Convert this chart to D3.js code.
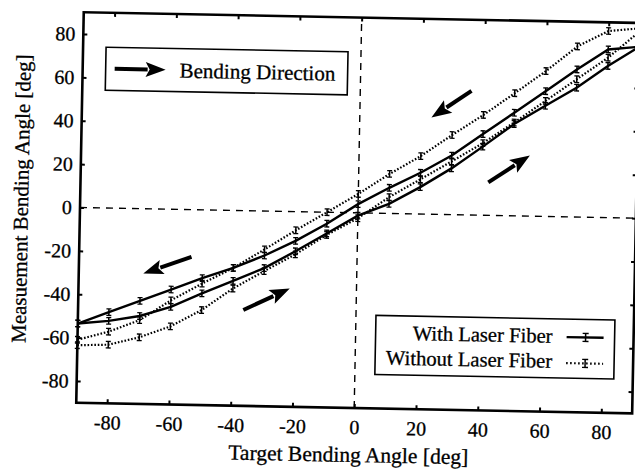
<!DOCTYPE html>
<html>
<head>
<meta charset="utf-8">
<script src="https://cdn.jsdelivr.net/npm/d3@7"></script>
<style>
body { margin: 0; background: #fff; }
text { font-family: "Liberation Serif", "DejaVu Serif", serif; fill: #000; stroke: #000; stroke-width: 0.3px; }
</style>
</head>
<body>
<script>
const angles = [-90, -80, -70, -60, -50, -40, -30, -20, -10, 0, 10, 20, 30, 40, 50, 60, 70, 80, 90];
// with laser fiber (solid), increasing / decreasing sweep
const withUp   = [-53.5, -52, -49.5, -45, -38.5, -32.5, -26.3, -18.3, -9.8, -1.3, 4.4, 12.4, 21.3, 31.6, 42.3, 51, 59.6, 69.9, 79];
const withDown = [-53.5, -48, -42.5, -37, -31.5, -26.5, -20.5, -13.5, -5.3, 4, 11.8, 19, 27.2, 37.4, 47.5, 57.7, 68, 77.5, 79];
// without laser fiber (dotted)
const withoutUp   = [-63.5, -63, -59.3, -54, -46.2, -36, -27.7, -19.7, -10.5, -2.5, 7.5, 16, 24.5, 33.2, 43, 53.2, 63.5, 73.7, 86];
const withoutDown = [-61, -57, -51.4, -42, -34, -26.5, -17.7, -8.6, 0, 8.7, 18.2, 26.7, 36.7, 46.2, 56.5, 67, 78.6, 86, 87.5];
const errHalf = 1.5;

const xTicks = [-80, -60, -40, -20, 0, 20, 40, 60, 80];
const yTicks = [-80, -60, -40, -20, 0, 20, 40, 60, 80];
const xTitle = "Target Bending Angle [deg]";
const yTitle = "Measuement Bending Angle [deg]";
const legendLabels = ["With Laser Fiber", "Without Laser Fiber"];
const directionLabel = "Bending Direction";
// direction arrows, [x1, y1, x2, y2] in data units (head at the second point)
const arrows = [[36, 57.2, 23.2, 44.6], [42, 15.2, 55.3, 27.9], [-53.6, -21.8, -69.1, -29.9], [-36.5, -45.8, -21.6, -35.5]];

const width = 635, height = 470;
const x = d3.scaleLinear().domain([-90, 90]).range([80, 636]);
const y = d3.scaleLinear().domain([-90, 90]).range([408, 17.5]);

const svg = d3.select("body").append("svg")
  .attr("width", width)
  .attr("height", height);

// the scan is tilted a little
const g = svg.append("g").attr("transform", "rotate(1.1,355,210)");

// zero lines
g.append("line")
  .attr("x1", x(-90)).attr("x2", x(90)).attr("y1", y(0)).attr("y2", y(0))
  .attr("stroke", "#000").attr("stroke-width", 1.4).attr("stroke-dasharray", "7,6");
g.append("line")
  .attr("x1", x(0)).attr("x2", x(0)).attr("y1", y(-90)).attr("y2", y(90))
  .attr("stroke", "#000").attr("stroke-width", 1.4).attr("stroke-dasharray", "7,6");

// axes
const fmt = (d) => String(d);
const xAxis = d3.axisBottom(x).tickValues(xTicks).tickSize(-4).tickPadding(12).tickFormat(fmt);
const yAxis = d3.axisLeft(y).tickValues(yTicks).tickSize(-4).tickPadding(8).tickFormat(fmt);

g.append("g").attr("transform", `translate(0,${y(-90)})`).call(xAxis);
g.append("g").attr("transform", `translate(${x(-90)},0)`).call(yAxis);
g.append("g").attr("transform", `translate(0,${y(90)})`).call(d3.axisTop(x).tickValues(xTicks).tickSize(-4).tickFormat(""));
g.append("g").attr("transform", `translate(${x(90)},0)`).call(d3.axisRight(y).tickValues(yTicks).tickSize(-4).tickFormat(""));

g.selectAll(".domain").remove();
g.selectAll(".tick line").attr("stroke", "#000").attr("stroke-width", 2);
g.selectAll(".tick text").style("font-size", "20px");

// frame
g.append("rect")
  .attr("x", x(-90)).attr("y", y(90))
  .attr("width", x(90) - x(-90)).attr("height", y(-90) - y(90))
  .attr("fill", "none").attr("stroke", "#000").attr("stroke-width", 2.6);

// titles
g.append("text")
  .attr("x", 353).attr("y", 462)
  .attr("text-anchor", "middle")
  .style("font-size", "21.5px")
  .text(xTitle);

g.append("text")
  .attr("transform", "translate(28,205) rotate(-90)")
  .attr("text-anchor", "middle")
  .style("font-size", "21px")
  .text(yTitle);

// series
const line = d3.line().x((d) => x(d[0])).y((d) => y(d[1]));
const series = [
  {vals: withUp, dash: null},
  {vals: withDown, dash: null},
  {vals: withoutUp, dash: "1.6,1.8"},
  {vals: withoutDown, dash: "1.6,1.8"}
];

series.forEach((s) => {
  const pts = angles.map((a, i) => [a, s.vals[i]]);
  g.append("path")
    .datum(pts)
    .attr("d", line)
    .attr("fill", "none")
    .attr("stroke", "#000")
    .attr("stroke-width", s.dash ? 2.2 : 2.4)
    .attr("stroke-dasharray", s.dash);

  const bars = g.append("g").selectAll("g").data(pts).enter().append("g");
  bars.append("line")
    .attr("x1", (d) => x(d[0])).attr("x2", (d) => x(d[0]))
    .attr("y1", (d) => y(d[1] - errHalf)).attr("y2", (d) => y(d[1] + errHalf))
    .attr("stroke", "#000").attr("stroke-width", 1.5);
  [-errHalf, errHalf].forEach((e) => {
    bars.append("line")
      .attr("x1", (d) => x(d[0]) - 2.5).attr("x2", (d) => x(d[0]) + 2.5)
      .attr("y1", (d) => y(d[1] + e)).attr("y2", (d) => y(d[1] + e))
      .attr("stroke", "#000").attr("stroke-width", 1.3);
  });
});

// arrow helper, pixel coords
function arrow(parent, x1, y1, x2, y2) {
  const len = Math.hypot(x2 - x1, y2 - y1);
  const ux = (x2 - x1) / len, uy = (y2 - y1) / len;
  const headL = 20, headW = 7.5;
  const bx = x2 - ux * headL, by = y2 - uy * headL;
  parent.append("line")
    .attr("x1", x1).attr("y1", y1).attr("x2", bx + ux * 2).attr("y2", by + uy * 2)
    .attr("stroke", "#000").attr("stroke-width", 4);
  parent.append("path")
    .attr("d", `M${x2},${y2}L${bx - uy * headW},${by + ux * headW}L${bx + ux * 4},${by + uy * 4}L${bx + uy * headW},${by - ux * headW}Z`)
    .attr("fill", "#000");
}

arrows.forEach((a) => arrow(g, x(a[0]), y(a[1]), x(a[2]), y(a[3])));

// direction legend
g.append("rect")
  .attr("x", 103).attr("y", 52).attr("width", 242).attr("height", 43)
  .attr("fill", "#fff").attr("stroke", "#000").attr("stroke-width", 1.6);
arrow(g, 112, 73.5, 163, 73.5);
g.append("text")
  .attr("x", 177).attr("y", 81)
  .style("font-size", "21px")
  .text(directionLabel);

// series legend
g.append("rect")
  .attr("x", 378).attr("y", 315).attr("width", 239).attr("height", 59)
  .attr("fill", "#fff").attr("stroke", "#000").attr("stroke-width", 1.6);

legendLabels.forEach((lab, i) => {
  const ly = 339 + i * 25;
  const sy = 333 + i * 26;
  g.append("text")
    .attr("x", 555).attr("y", ly)
    .attr("text-anchor", "end")
    .style("font-size", "20.6px")
    .text(lab);
  g.append("line")
    .attr("x1", 569).attr("x2", 606).attr("y1", sy).attr("y2", sy)
    .attr("stroke", "#000")
    .attr("stroke-width", i === 0 ? 2.4 : 2.2)
    .attr("stroke-dasharray", i === 0 ? null : "1.6,2.4");
  g.append("line")
    .attr("x1", 588).attr("x2", 588).attr("y1", sy - 4).attr("y2", sy + 4)
    .attr("stroke", "#000").attr("stroke-width", 1.5);
  [-4, 4].forEach((e) => {
    g.append("line")
      .attr("x1", 585).attr("x2", 591).attr("y1", sy + e).attr("y2", sy + e)
      .attr("stroke", "#000").attr("stroke-width", 1.3);
  });
});
</script>
</body>
</html>
